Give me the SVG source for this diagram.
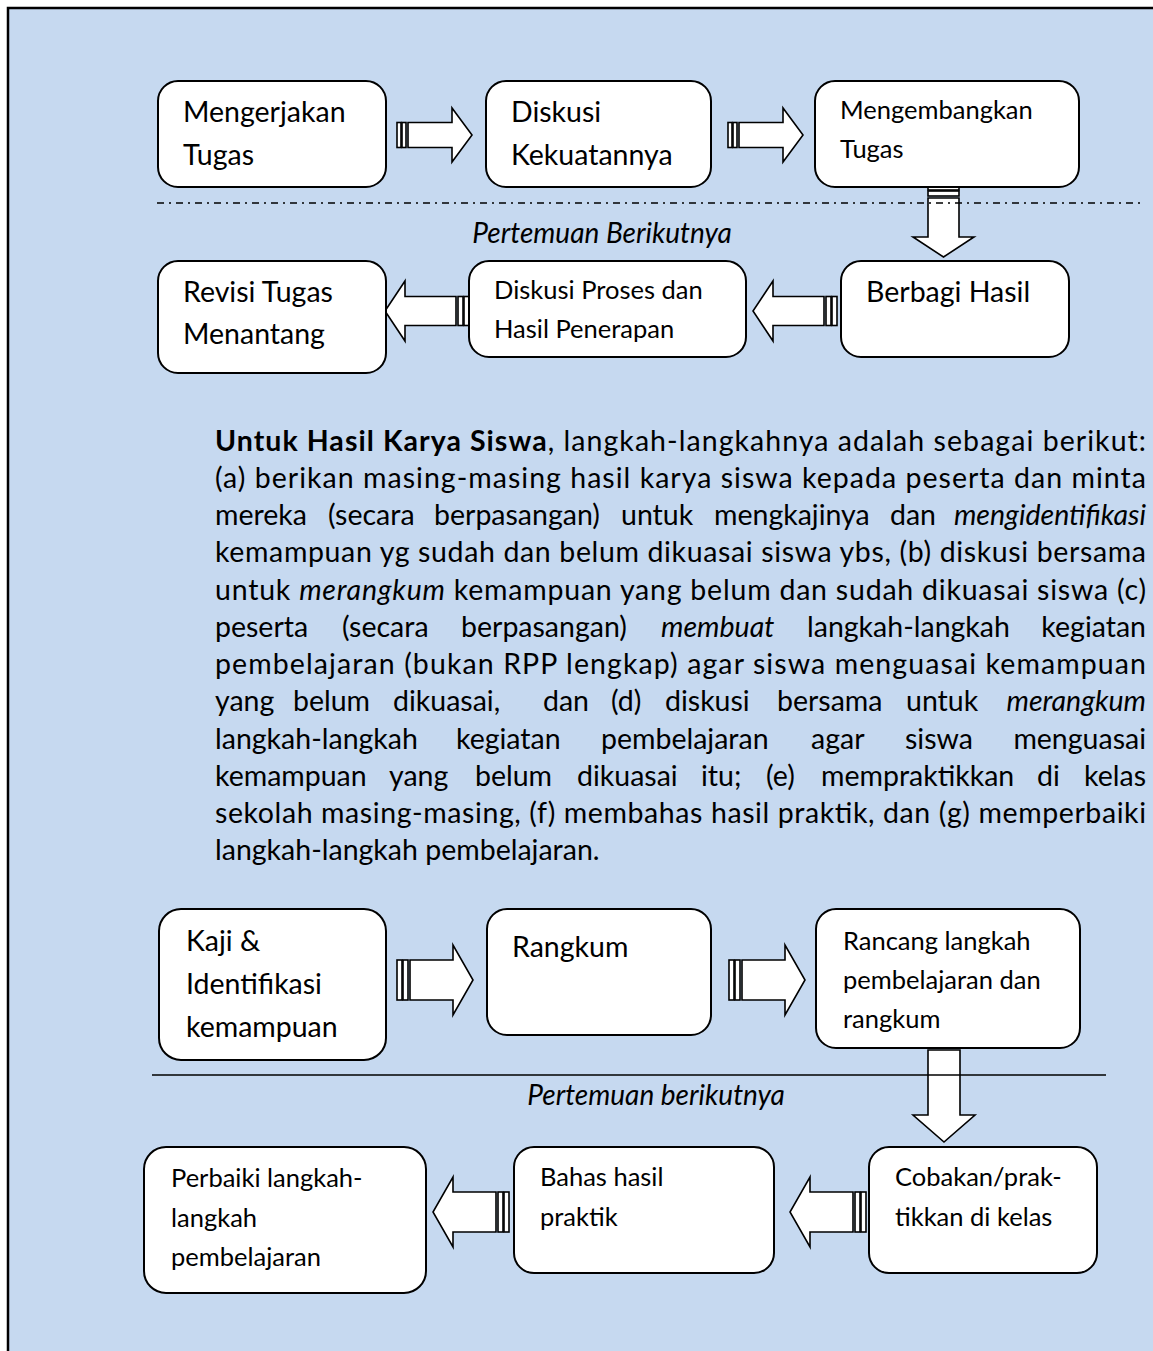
<svg xmlns="http://www.w3.org/2000/svg" width="1153" height="1351" viewBox="0 0 1153 1351">
<style>
.node{fill:#fff;stroke:#000;stroke-width:2}
.t{font-family:Lato,"Liberation Sans",sans-serif;font-size:28.5px;fill:#000}
.ts{font-family:Lato,"Liberation Sans",sans-serif;font-size:25.5px;fill:#000}
.p{font-family:Lato,"Liberation Sans",sans-serif;font-size:28.5px;fill:#000}
.cap{font-family:Lato,"Liberation Sans",sans-serif;font-size:28px;font-style:italic;fill:#000}
.ar{fill:#fff;stroke:#000;stroke-width:1.6;stroke-linejoin:miter}
.bar{fill:#fff;stroke:#000;stroke-width:1.6}
</style>
<defs>
<g id="arrS">
<rect class="bar" x="0" y="-12.5" width="4" height="25"/>
<rect class="bar" x="5" y="-12.5" width="4" height="25"/>
<polygon class="ar" points="11,-12.5 55,-12.5 55,-27 75,0 55,27 55,12.5 11,12.5"/>
</g>
<g id="arrM">
<rect class="bar" x="0" y="-14.5" width="5" height="29"/>
<rect class="bar" x="6" y="-14.5" width="5" height="29"/>
<polygon class="ar" points="13,-14.5 64,-14.5 64,-30 84,0 64,30 64,14.5 13,14.5"/>
</g>
<g id="arrL">
<rect class="bar" x="0" y="-20" width="5" height="40"/>
<rect class="bar" x="6" y="-20" width="5" height="40"/>
<polygon class="ar" points="13,-20 56,-20 56,-35 76,0 56,35 56,20 13,20"/>
</g>
</defs>
<rect x="8" y="8" width="1150" height="1350" fill="#c6d9f0" stroke="#000" stroke-width="2.5"/>

<g id="connectors">
<use href="#arrS" transform="translate(397,135)"/>
<use href="#arrS" transform="translate(728,135)"/>
<use href="#arrM" transform="translate(837,311) scale(-1,1)"/>
<use href="#arrM" transform="translate(469,311) scale(-1,1)"/>
<use href="#arrL" transform="translate(397,980)"/>
<use href="#arrL" transform="translate(729,980)"/>
<use href="#arrL" transform="translate(866,1212) scale(-1,1)"/>
<use href="#arrL" transform="translate(509,1212) scale(-1,1)"/>
<g id="down1">
<rect class="bar" x="928" y="187" width="31" height="3"/>
<rect class="bar" x="928" y="191" width="31" height="5"/>
<polygon class="ar" points="928,198 959,198 959,237 974,237 943.5,257 913,237 928,237"/>
</g>
<g id="down2">
<rect class="bar" x="928" y="1035" width="32" height="3"/>
<rect class="bar" x="928" y="1040" width="32" height="8"/>
<polygon class="ar" points="928,1050 960,1050 960,1115 975,1115 944,1142 913,1115 928,1115"/>
</g>
</g>

<line x1="157" y1="203" x2="1140" y2="203" stroke="#000" stroke-width="1.6" stroke-dasharray="7 5 2 5"/>
<line x1="152" y1="1075" x2="1106" y2="1075" stroke="#000" stroke-width="1.6"/>
<text class="cap" x="602" y="243" text-anchor="middle">Pertemuan Berikutnya</text>
<text class="cap" x="656" y="1105" text-anchor="middle">Pertemuan berikutnya</text>

<g id="n1"><rect class="node" x="158" y="81" width="228" height="106" rx="20"/>
<text class="t" x="183" y="122">Mengerjakan</text><text class="t" x="183" y="165">Tugas</text></g>
<g id="n2"><rect class="node" x="486" y="81" width="225" height="106" rx="20"/>
<text class="t" x="511" y="122">Diskusi</text><text class="t" x="511" y="165">Kekuatannya</text></g>
<g id="n3"><rect class="node" x="815" y="81" width="264" height="106" rx="20"/>
<text class="ts" x="840" y="119">Mengembangkan</text><text class="ts" x="840" y="158">Tugas</text></g>
<g id="n4"><rect class="node" x="158" y="261" width="228" height="112" rx="20"/>
<text class="t" x="183" y="302">Revisi Tugas</text><text class="t" x="183" y="344">Menantang</text></g>
<g id="n5"><rect class="node" x="469" y="261" width="277" height="96" rx="20"/>
<text class="ts" x="494" y="299">Diskusi Proses dan</text><text class="ts" x="494" y="338">Hasil Penerapan</text></g>
<g id="n6"><rect class="node" x="841" y="261" width="228" height="96" rx="20"/>
<text class="t" x="866" y="302">Berbagi Hasil</text></g>

<g id="n7"><rect class="node" x="159" y="909" width="227" height="151" rx="22"/>
<text class="t" x="186" y="951">Kaji &amp;</text><text class="t" x="186" y="994">Identifikasi</text><text class="t" x="186" y="1037">kemampuan</text></g>
<g id="n8"><rect class="node" x="487" y="909" width="224" height="126" rx="20"/>
<text class="t" x="512" y="957">Rangkum</text></g>
<g id="n9"><rect class="node" x="816" y="909" width="264" height="139" rx="20"/>
<text class="ts" x="843" y="950">Rancang langkah</text><text class="ts" x="843" y="989">pembelajaran dan</text><text class="ts" x="843" y="1028">rangkum</text></g>
<g id="n10"><rect class="node" x="144" y="1147" width="282" height="146" rx="22"/>
<text class="ts" x="171" y="1187">Perbaiki langkah-</text><text class="ts" x="171" y="1227">langkah</text><text class="ts" x="171" y="1266">pembelajaran</text></g>
<g id="n11"><rect class="node" x="514" y="1147" width="260" height="126" rx="20"/>
<text class="ts" x="540" y="1186">Bahas hasil</text><text class="ts" x="540" y="1226">praktik</text></g>
<g id="n12"><rect class="node" x="869" y="1147" width="228" height="126" rx="20"/>
<text class="ts" x="895" y="1186">Cobakan/prak-</text><text class="ts" x="895" y="1226">tikkan di kelas</text></g>

<g id="paragraph">
<text class="p" x="215" y="451" textLength="931" lengthAdjust="spacing"><tspan font-weight="bold">Untuk Hasil Karya Siswa</tspan>, langkah-langkahnya adalah sebagai berikut:</text>
<text class="p" x="215" y="488" textLength="931" lengthAdjust="spacing">(a) berikan masing-masing hasil karya siswa kepada peserta dan minta</text>
<text class="p" y="525"><tspan x="215">mereka</tspan><tspan x="328">(secara</tspan><tspan x="434">berpasangan)</tspan><tspan x="621">untuk</tspan><tspan x="714">mengkajinya</tspan><tspan x="890">dan</tspan></text>
<text class="p" x="1146" y="525" text-anchor="end" font-style="italic">mengidentifikasi</text>
<text class="p" x="215" y="562" textLength="931" lengthAdjust="spacing">kemampuan yg sudah dan belum dikuasai siswa ybs, (b) diskusi bersama</text>
<text class="p" x="215" y="600" textLength="931" lengthAdjust="spacing">untuk <tspan font-style="italic">merangkum</tspan> kemampuan yang belum dan sudah dikuasai siswa (c)</text>
<text class="p" y="637"><tspan x="215">peserta</tspan><tspan x="342">(secara</tspan><tspan x="461">berpasangan)</tspan><tspan x="661" font-style="italic">membuat</tspan><tspan x="807">langkah-langkah</tspan></text>
<text class="p" x="1146" y="637" text-anchor="end">kegiatan</text>
<text class="p" x="215" y="674" textLength="931" lengthAdjust="spacing">pembelajaran (bukan RPP lengkap) agar siswa menguasai kemampuan</text>
<text class="p" y="711"><tspan x="215">yang</tspan><tspan x="293">belum</tspan><tspan x="393">dikuasai,</tspan><tspan x="543">dan</tspan><tspan x="611">(d)</tspan><tspan x="665">diskusi</tspan><tspan x="777">bersama</tspan><tspan x="906">untuk</tspan></text>
<text class="p" x="1146" y="711" text-anchor="end" font-style="italic">merangkum</text>
<text class="p" y="749"><tspan x="215">langkah-langkah</tspan><tspan x="456">kegiatan</tspan><tspan x="601">pembelajaran</tspan><tspan x="811">agar</tspan><tspan x="905">siswa</tspan></text>
<text class="p" x="1146" y="749" text-anchor="end">menguasai</text>
<text class="p" y="786"><tspan x="215">kemampuan</tspan><tspan x="389">yang</tspan><tspan x="475">belum</tspan><tspan x="577">dikuasai</tspan><tspan x="701">itu;</tspan><tspan x="766">(e)</tspan><tspan x="821">mempraktikkan</tspan><tspan x="1037">di</tspan></text>
<text class="p" x="1146" y="786" text-anchor="end">kelas</text>
<text class="p" x="215" y="823" textLength="931" lengthAdjust="spacing">sekolah masing-masing, (f) membahas hasil praktik, dan (g) memperbaiki</text>
<text class="p" x="215" y="860">langkah-langkah pembelajaran.</text>
</g>
</svg>
